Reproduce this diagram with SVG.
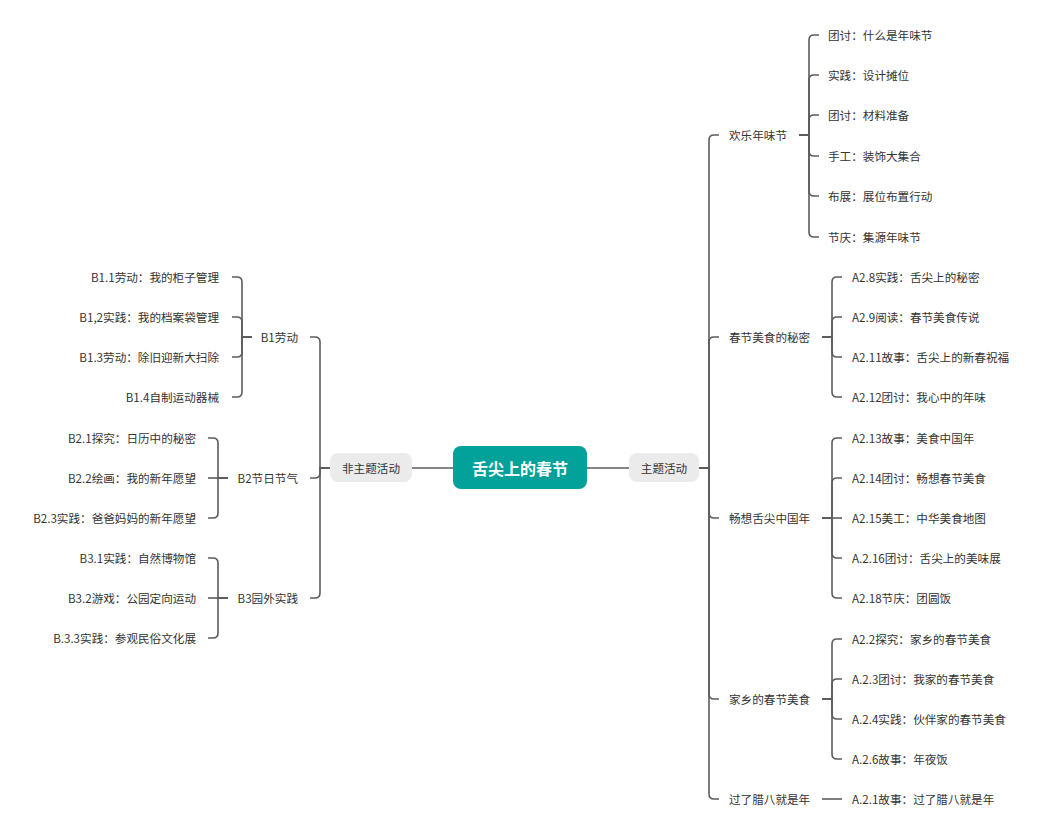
<svg xmlns="http://www.w3.org/2000/svg" width="1046" height="836" viewBox="0 0 1046 836">
<style>
text{font-family:"Noto Sans CJK SC","Noto Sans",sans-serif;font-size:11.6px;fill:#333;dominant-baseline:central}
.e{text-anchor:end}
.c{text-anchor:middle}
.t{font-size:16px;font-weight:bold;fill:#fff}
.ln path{fill:none;stroke:#5c5c5c;stroke-width:1.6}
.pill{fill:#ebebeb}
</style>
<rect width="1046" height="836" fill="#fff"/>
<g class="ln" id="connectors">
<path d="M412,468H453M587,468H629"/>
<path d="M699,468H709V140Q709,135 714,135H719"/>
<path d="M699,468H709V342Q709,337 714,337H719"/>
<path d="M699,468H709V513Q709,518 714,518H719"/>
<path d="M699,468H709V694Q709,699 714,699H719"/>
<path d="M699,468H709V794Q709,799 714,799H719"/>
<path d="M799,135H809V40Q809,35 814,35H819"/>
<path d="M799,135H809V80Q809,75 814,75H819"/>
<path d="M799,135H809V120Q809,115 814,115H819"/>
<path d="M799,135H809V151Q809,156 814,156H819"/>
<path d="M799,135H809V191Q809,196 814,196H819"/>
<path d="M799,135H809V232Q809,237 814,237H819"/>
<path d="M822,337H832V282Q832,277 837,277H842"/>
<path d="M822,337H832V322Q832,317 837,317H842"/>
<path d="M822,337H832V352Q832,357 837,357H842"/>
<path d="M822,337H832V392Q832,397 837,397H842"/>
<path d="M822,518H832V443Q832,438 837,438H842"/>
<path d="M822,518H832V483Q832,478 837,478H842"/>
<path d="M822,518H842"/>
<path d="M822,518H832V553Q832,558 837,558H842"/>
<path d="M822,518H832V593Q832,598 837,598H842"/>
<path d="M822,699H832V644Q832,639 837,639H842"/>
<path d="M822,699H832V684Q832,679 837,679H842"/>
<path d="M822,699H832V714Q832,719 837,719H842"/>
<path d="M822,699H832V754Q832,759 837,759H842"/>
<path d="M822,799H842"/>
<path d="M330,468H320V342Q320,337 315,337H310"/>
<path d="M330,468H320V473Q320,478 315,478H310"/>
<path d="M330,468H320V593Q320,598 315,598H310"/>
<path d="M252,337H242V282Q242,277 237,277H232"/>
<path d="M252,337H242V322Q242,317 237,317H232"/>
<path d="M252,337H242V352Q242,357 237,357H232"/>
<path d="M252,337H242V392Q242,397 237,397H232"/>
<path d="M228,478H218V443Q218,438 213,438H208"/>
<path d="M228,478H208"/>
<path d="M228,478H218V513Q218,518 213,518H208"/>
<path d="M228,598H218V563Q218,558 213,558H208"/>
<path d="M228,598H208"/>
<path d="M228,598H218V633Q218,638 213,638H208"/>
</g>
<g id="root"><rect x="453" y="446" width="134" height="43" rx="8" fill="#02a29a"/><text class="t c" x="520" y="467.5">舌尖上的春节</text></g>
<g id="zhuti"><rect class="pill" x="629" y="453" width="70" height="29" rx="8"/><text class="c" x="664" y="467.5">主题活动</text></g>
<g id="feizhuti"><rect class="pill" x="330" y="453" width="82" height="29" rx="8"/><text class="c" x="371" y="467.5">非主题活动</text></g>
<g id="a1"><text x="729" y="135">欢乐年味节</text></g>
<g id="a1-1"><text x="828" y="35">团讨：什么是年味节</text></g>
<g id="a1-2"><text x="828" y="75">实践：设计摊位</text></g>
<g id="a1-3"><text x="828" y="115">团讨：材料准备</text></g>
<g id="a1-4"><text x="828" y="156">手工：装饰大集合</text></g>
<g id="a1-5"><text x="828" y="196">布展：展位布置行动</text></g>
<g id="a1-6"><text x="828" y="237">节庆：集源年味节</text></g>
<g id="a2"><text x="729" y="337">春节美食的秘密</text></g>
<g id="a2-1"><text x="852" y="277">A2.8实践：舌尖上的秘密</text></g>
<g id="a2-2"><text x="852" y="317">A2.9阅读：春节美食传说</text></g>
<g id="a2-3"><text x="852" y="357">A2.11故事：舌尖上的新春祝福</text></g>
<g id="a2-4"><text x="852" y="397">A2.12团讨：我心中的年味</text></g>
<g id="a3"><text x="729" y="518">畅想舌尖中国年</text></g>
<g id="a3-1"><text x="852" y="438">A2.13故事：美食中国年</text></g>
<g id="a3-2"><text x="852" y="478">A2.14团讨：畅想春节美食</text></g>
<g id="a3-3"><text x="852" y="518">A2.15美工：中华美食地图</text></g>
<g id="a3-4"><text x="852" y="558">A.2.16团讨：舌尖上的美味展</text></g>
<g id="a3-5"><text x="852" y="598">A2.18节庆：团圆饭</text></g>
<g id="a4"><text x="729" y="699">家乡的春节美食</text></g>
<g id="a4-1"><text x="852" y="639">A2.2探究：家乡的春节美食</text></g>
<g id="a4-2"><text x="852" y="679">A.2.3团讨：我家的春节美食</text></g>
<g id="a4-3"><text x="852" y="719">A.2.4实践：伙伴家的春节美食</text></g>
<g id="a4-4"><text x="852" y="759">A.2.6故事：年夜饭</text></g>
<g id="a5"><text x="729" y="799">过了腊八就是年</text></g>
<g id="a5-1"><text x="852" y="799">A.2.1故事：过了腊八就是年</text></g>
<g id="b1"><text class="e" x="298" y="337">B1劳动</text></g>
<g id="b1-1"><text class="e" x="219" y="277">B1.1劳动：我的柜子管理</text></g>
<g id="b1-2"><text class="e" x="219" y="317">B1,2实践：我的档案袋管理</text></g>
<g id="b1-3"><text class="e" x="219" y="357">B1.3劳动：除旧迎新大扫除</text></g>
<g id="b1-4"><text class="e" x="219" y="397">B1.4自制运动器械</text></g>
<g id="b2"><text class="e" x="298" y="478">B2节日节气</text></g>
<g id="b2-1"><text class="e" x="196" y="438">B2.1探究：日历中的秘密</text></g>
<g id="b2-2"><text class="e" x="196" y="478">B2.2绘画：我的新年愿望</text></g>
<g id="b2-3"><text class="e" x="196" y="518">B2.3实践：爸爸妈妈的新年愿望</text></g>
<g id="b3"><text class="e" x="298" y="598">B3园外实践</text></g>
<g id="b3-1"><text class="e" x="196" y="558">B3.1实践：自然博物馆</text></g>
<g id="b3-2"><text class="e" x="196" y="598">B3.2游戏：公园定向运动</text></g>
<g id="b3-3"><text class="e" x="196" y="638">B.3.3实践：参观民俗文化展</text></g>
</svg>
